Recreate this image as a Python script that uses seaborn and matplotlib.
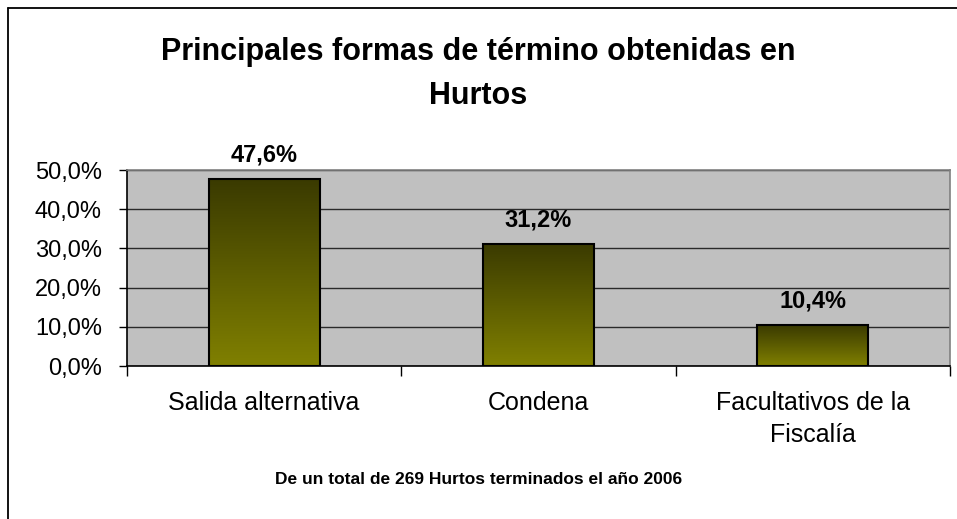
import numpy as np
import pandas as pd
import seaborn as sns
import matplotlib.pyplot as plt
import matplotlib.ticker as ticker
from matplotlib.lines import Line2D

categorias = ['Salida alternativa', 'Condena', 'Facultativos de la\nFiscalía']
porcentajes = [47.6, 31.2, 10.4]
etiquetas = ['47,6%', '31,2%', '10,4%']
y_ticks = [0, 10, 20, 30, 40, 50]

titulo = 'Principales formas de término obtenidas en\nHurtos'
pie = 'De un total de 269 Hurtos terminados el año 2006'

df = pd.DataFrame({'forma': categorias, 'pct': porcentajes})

sns.set_theme(style='white', rc={'text.color': 'black', 'axes.labelcolor': 'black',
                                 'xtick.color': 'black', 'ytick.color': 'black'})
plt.rcParams['font.family'] = ['Liberation Sans', 'DejaVu Sans']

fig = plt.figure(figsize=(9.57, 5.19), dpi=100)
fig.patch.set_facecolor('white')
ax = fig.add_axes([127/957, 1 - 366/519, (950 - 127)/957, (366 - 170)/519])
ax.set_facecolor('#C0C0C0')

sns.barplot(data=df, x='forma', y='pct', width=0.405, ax=ax,
            edgecolor='black', linewidth=1.5, zorder=3)

# gradiente vertical en cada barra (oliva claro abajo, oscuro arriba)
c_bot = np.array([128, 128, 0]) / 255
c_top = np.array([58, 58, 0]) / 255
t = np.linspace(0, 1, 256)[:, None, None]
grad = c_bot * (1 - t) + c_top * t
for p in ax.patches:
    x0, y0 = p.get_x(), p.get_y()
    w, h = p.get_width(), p.get_height()
    ax.imshow(grad, extent=[x0, x0 + w, y0, y0 + h], origin='lower',
              aspect='auto', zorder=2.5, interpolation='bilinear')
    p.set_facecolor('none')

ax.set_xlim(-0.5, 2.5)
ax.set_ylim(0, 50)

ax.set_yticks(y_ticks)
ax.yaxis.set_major_formatter(ticker.FuncFormatter(lambda v, pos: f'{v:.1f}%'.replace('.', ',')))
ax.yaxis.grid(True, color='#2a2a2a', linewidth=1.0, zorder=1)
ax.set_axisbelow(True)

ax.set_xticks(range(len(categorias)))
ax.set_xticklabels(categorias, linespacing=1.4)
ax.xaxis.set_minor_locator(ticker.FixedLocator([-0.5, 0.5, 1.5, 2.5]))
ax.tick_params(axis='x', which='major', length=0, pad=18, labelsize=18, colors='black')
ax.tick_params(axis='x', which='minor', length=7, width=1, color='black', bottom=True)
ax.tick_params(axis='y', length=6, width=1, color='black', left=True, pad=12,
               labelsize=17, labelcolor='black')

ax.set_xlabel('')
ax.set_ylabel('')

for s in ['left', 'bottom']:
    ax.spines[s].set_color('black')
    ax.spines[s].set_linewidth(1.2)
for s in ['top', 'right']:
    ax.spines[s].set_color('#808080')
    ax.spines[s].set_linewidth(1.2)

for p, txt in zip(ax.patches, etiquetas):
    ax.annotate(txt, (p.get_x() + p.get_width() / 2, p.get_height()),
                xytext=(0, 9), textcoords='offset points', ha='center', va='bottom',
                fontsize=17, fontweight='bold', color='black')

fig.text(0.5, 1 - 37/519, titulo, ha='center', va='top', fontsize=22,
         fontweight='bold', linespacing=1.6, color='black')
fig.text(0.5, 1 - 480/519, pie, ha='center', va='center', fontsize=12.5,
         fontweight='bold', color='black')

# marco exterior (solo lineas superior e izquierda visibles)
fig.add_artist(Line2D([8/957, 1], [1 - 8/519, 1 - 8/519], color='black', linewidth=1.3))
fig.add_artist(Line2D([8/957, 8/957], [0, 1 - 8/519], color='black', linewidth=1.3))

fig.savefig('out.png', dpi=100)
